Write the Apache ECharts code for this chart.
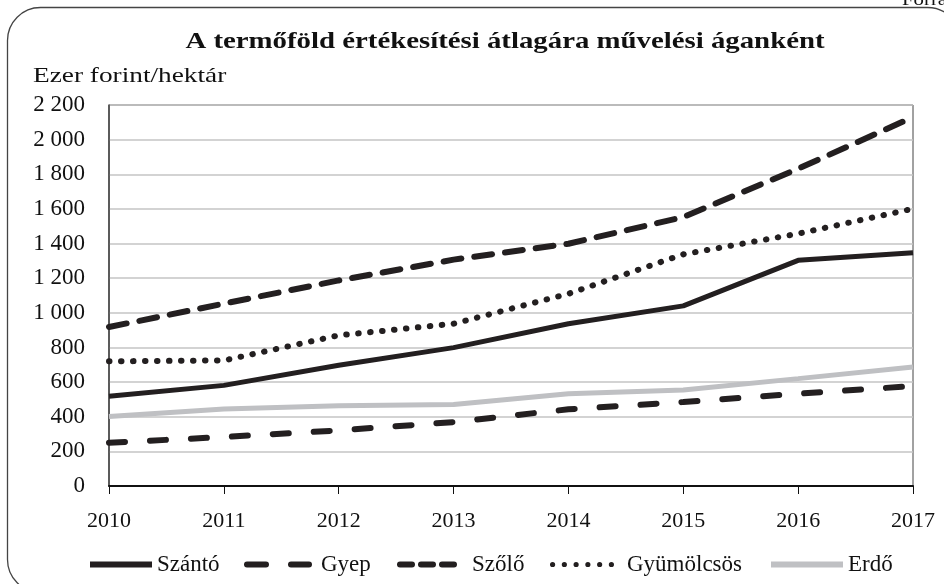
<!DOCTYPE html>
<html>
<head>
<meta charset="utf-8">
<script src="https://cdn.jsdelivr.net/npm/echarts@6/dist/echarts.min.js"></script>
<style>
  html, body { margin: 0; padding: 0; background: #fff; }
  #main { width: 944px; height: 584px; }
</style>
</head>
<body>
<div id="main"></div>
<script>
// adatok (ezer forint/hektár)
var years = ['2010', '2011', '2012', '2013', '2014', '2015', '2016', '2017']
var szanto = [518, 581, 697, 799, 937, 1040, 1303, 1347]
var gyep = [250, 283, 321, 369, 443, 485, 533, 577]
var szolo = [918, 1053, 1187, 1307, 1399, 1553, 1832, 2130]
var gyumolcsos = [720, 725, 870, 937, 1110, 1338, 1457, 1601]
var erdo = [402, 445, 464, 470, 533, 554, 620, 687]

var font = '"Liberation Serif", "DejaVu Serif", serif'
var black = '#231f20'
var grey = '#bfc0c3'
var myChart = echarts.init(document.getElementById('main'))

function fmt(v) {
  // szóközös ezres tagolás
  return String(v).replace(/\B(?=(\d{3})+(?!\d))/g, ' ')
}

// jelmagyarázat ikonok
function pill(x, w) {
  return 'M' + (x + 3) + ',0h' + (w - 6) + 'a3,3 0 0,1 0,6h' + (6 - w) + 'a3,3 0 0,1 0,-6z'
}
function dot(cx) {
  return 'M' + (cx - 2.6) + ',3a2.6,2.6 0 1,0 5.2,0a2.6,2.6 0 1,0 -5.2,0z'
}
var icons = {
  'Szántó': 'path://M0,0h62v6h-62z',
  'Gyep': 'path://' + pill(0, 25) + pill(44, 24),
  'Szőlő': 'path://' + pill(0, 18) + pill(21, 18) + pill(42, 18),
  'Gyümölcsös': 'path://' + [2.6, 14.4, 26.2, 38, 49.8, 61.6].map(dot).join(''),
  'Erdő': 'path://M0,0h72v6h-72z'
}
function legendItem(name, left, width, pad) {
  return {
    left: left, top: 548, itemWidth: width, itemHeight: name === 'Gyümölcsös' ? 5.2 : 6,
    data: [{ name: name, icon: icons[name] }],
    textStyle: { fontFamily: font, fontSize: 23, color: '#111', padding: [0, 0, 0, pad] }
  }
}

var option = {
  animation: false,
  textStyle: { fontFamily: font, color: '#111' },
  graphic: [
    {
      type: 'rect', silent: true,
      shape: { x: 7.5, y: 7.5, width: 953, height: 585, r: 33 },
      style: { fill: 'none', stroke: '#444', lineWidth: 1.3 }
    },
    {
      type: 'text', x: 505, y: 42, scaleX: 1.2,
      style: {
        text: 'A termőföld értékesítési átlagára művelési áganként',
        font: 'bold 24px ' + font, fill: '#111', textAlign: 'center', textVerticalAlign: 'middle'
      }
    },
    {
      type: 'text', x: 33, y: 76, scaleX: 1.3,
      style: { text: 'Ezer forint/hektár', font: '21px ' + font, fill: '#111', textVerticalAlign: 'middle' }
    },
    {
      type: 'text', x: 902, y: 9, scaleX: 1.3,
      style: { text: 'Forrás', font: '16px ' + font, fill: '#111', textVerticalAlign: 'bottom' }
    }
  ],
  grid: { left: 109, right: 31, top: 105, bottom: 98, show: true, borderColor: '#444', borderWidth: 1 },
  legend: [
    legendItem('Szántó', 85, 62, 0),
    legendItem('Gyep', 239, 68, 4),
    legendItem('Szőlő', 392, 60, 10),
    legendItem('Gyümölcsös', 545, 64, 8),
    legendItem('Erdő', 766, 72, 0)
  ],
  xAxis: {
    type: 'category', data: years, boundaryGap: false,
    axisLine: { lineStyle: { color: '#111', width: 2 } },
    axisTick: { show: true, length: 8, lineStyle: { color: '#111' } },
    axisLabel: { fontFamily: font, fontSize: 22, color: '#111', margin: 24 }
  },
  yAxis: {
    type: 'value', min: 0, max: 2200, interval: 200,
    axisLine: { show: true, lineStyle: { color: '#444', width: 1.5 } },
    axisTick: { show: false },
    axisLabel: { fontFamily: font, fontSize: 23, color: '#111', margin: 24, formatter: fmt },
    splitLine: { lineStyle: { color: '#c4c4c4', width: 1.5 } }
  },
  series: [
    {
      name: 'Szántó', type: 'line', data: szanto, symbol: 'none',
      lineStyle: { color: black, width: 5 }, itemStyle: { color: black }
    },
    {
      name: 'Gyep', type: 'line', data: gyep, symbol: 'none',
      lineStyle: { color: black, width: 6, type: [16, 25], cap: 'round' }, itemStyle: { color: black }
    },
    {
      name: 'Szőlő', type: 'line', data: szolo, symbol: 'none',
      lineStyle: { color: black, width: 6, type: [18, 13], cap: 'round' }, itemStyle: { color: black }
    },
    {
      name: 'Gyümölcsös', type: 'line', data: gyumolcsos, symbol: 'none',
      lineStyle: { color: black, width: 6, type: [0.5, 11.5], cap: 'round' }, itemStyle: { color: black }
    },
    {
      name: 'Erdő', type: 'line', data: erdo, symbol: 'none',
      lineStyle: { color: grey, width: 5 }, itemStyle: { color: grey }
    }
  ]
}

myChart.setOption(option)
</script>
</body>
</html>
